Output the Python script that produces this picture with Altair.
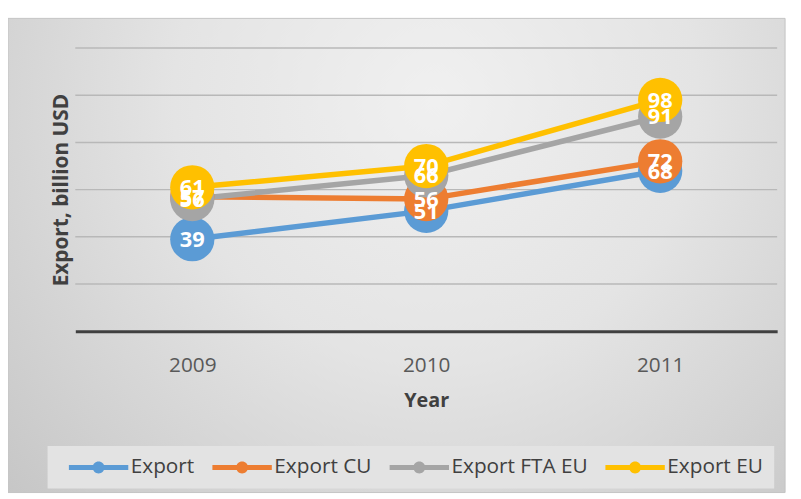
import altair as alt
import pandas as pd

years = ["2009", "2010", "2011"]
series = ["Export", "Export CU", "Export FTA EU", "Export EU"]
export = [39, 51, 68]
export_cu = [57, 56, 72]
export_fta_eu = [56, 66, 91]
export_eu = [61, 70, 98]
colors = ["#5B9BD5", "#ED7D31", "#A5A5A5", "#FFC000"]
grid_values = [20, 40, 60, 80, 100, 120]

rows = []
for name, vals in zip(series, [export, export_cu, export_fta_eu, export_eu]):
    for y, v in zip(years, vals):
        rows.append({"Year": y, "Series": name, "Value": v})
df = pd.DataFrame(rows)

FONT = "Open Sans"
x_enc = alt.X("Year:O", scale=alt.Scale(padding=0.5),
              axis=alt.Axis(title="Year", labelAngle=0, ticks=False, grid=False,
                            domainColor="#404040", domainWidth=3,
                            labelFont=FONT, labelFontSize=21, labelColor="#595959",
                            labelPadding=24, titleFont=FONT, titleFontSize=20,
                            titleFontWeight="bold", titleColor="#404040",
                            titlePadding=15, zindex=1))
y_enc = alt.Y("Value:Q", scale=alt.Scale(domain=[0, 120], nice=False),
              axis=alt.Axis(title="Export, billion USD", labels=False, ticks=False,
                            domain=False, grid=False, titleFont=FONT, titleFontSize=21,
                            titleFontWeight="bold", titleColor="#404040",
                            titlePadding=4, zindex=1))

sym = ("M-3,-0.25H3V0.25H-3Z "
       "M-0.6,0A0.6,0.6,0,1,1,0.6,0A0.6,0.6,0,1,1,-0.6,0Z")
leg = alt.Legend(title=None, orient="none", legendX=-28, legendY=402,
                 direction="horizontal", symbolType=sym,
                 symbolSize=400, symbolStrokeWidth=0,
                 symbolOffset=30, labelOffset=22,
                 labelFont=FONT, labelFontSize=21,
                 labelColor="#404040", fillColor="#e3e3e3",
                 padding=11, columnPadding=7, zindex=1,
                 symbolOpacity=1)
color_enc = alt.Color("Series:N", scale=alt.Scale(domain=series, range=colors), legend=leg)

bg = alt.Chart(pd.DataFrame({"a": [0]})).mark_rect(
    fill={"gradient": "radial", "x1": 0.55, "y1": 0.3, "r1": 0,
          "x2": 0.55, "y2": 0.3, "r2": 0.75,
          "stops": [{"offset": 0, "color": "#f0f0f0"},
                    {"offset": 0.45, "color": "#e4e4e4"},
                    {"offset": 1, "color": "#c6c6c6"}]},
    stroke="#c4c4c4", strokeWidth=1
).encode(x=alt.value(-68), x2=alt.value(717), y=alt.value(-30), y2=alt.value(449))

grid = alt.Chart(pd.DataFrame({"v": grid_values})).mark_rule(
    color="#b8b8b8", strokeWidth=1.5
).encode(y=alt.Y("v:Q", scale=alt.Scale(domain=[0, 120], nice=False)))

base = alt.Chart(df)
lines = base.mark_line(strokeWidth=5.5).encode(
    x=x_enc, y=y_enc, color=color_enc, order=alt.Order("Year:O"))

points = base.mark_circle(size=2000, opacity=1).encode(
    x=x_enc, y=y_enc, color=color_enc)

labels = base.mark_text(color="white", font=FONT, fontWeight="bold", fontSize=22,
                        baseline="middle", dy=1).encode(
    x=x_enc, y=y_enc, text=alt.Text("Value:Q"))

chart = alt.layer(bg, grid, lines, points, labels).properties(
    width=709, height=286,
    padding={"left": 68, "top": 38, "right": 16, "bottom": 163},
    autosize=alt.AutoSizeParams(type="none"),
    background="white"
).configure_view(stroke=None)

chart.save("out.html", embed_options={"renderer": "svg", "actions": False})
